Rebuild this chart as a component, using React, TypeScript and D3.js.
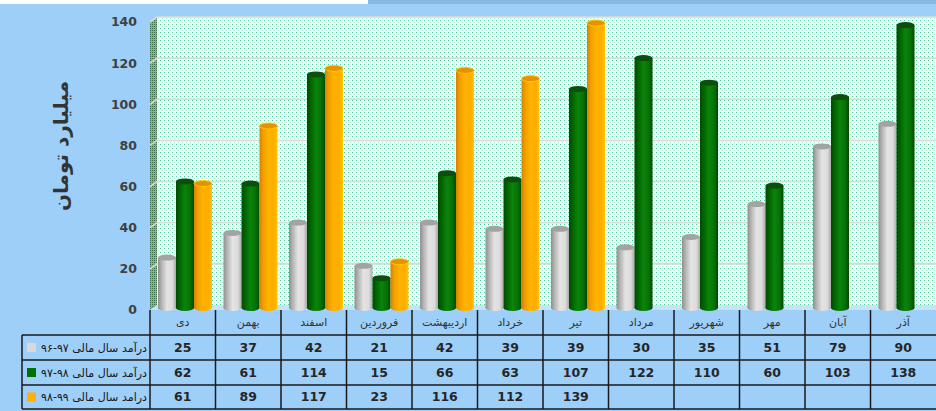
import React, { useEffect, useRef } from "react";
import * as d3 from "d3";

const categories = ["دی", "بهمن", "اسفند", "فروردین", "اردیبهشت", "خرداد", "تیر", "مرداد", "شهریور", "مهر", "آبان", "آذر"];
const seriesNames = ["درآمد سال مالی ۹۷-۹۶", "درآمد سال مالی ۹۸-۹۷", "درامد سال مالی ۹۹-۹۸"];
const income9697 = [25, 37, 42, 21, 42, 39, 39, 30, 35, 51, 79, 90];
const income9798 = [62, 61, 114, 15, 66, 63, 107, 122, 110, 60, 103, 138];
const income9899 = [61, 89, 117, 23, 116, 112, 139, null, null, null, null, null];
const yTicks = [0, 20, 40, 60, 80, 100, 120, 140];

const W = 936;
const H = 411;

function App() {
  const chartRef = useRef(null);

  useEffect(() => {
    const svg = d3.select(chartRef.current);
    svg.selectAll("*").remove();

    const series = [income9697, income9798, income9899];
    const left = 150;
    const floorY = 310;
    const dx = 7;
    const dy = 5;

    const x0 = d3.scaleBand().domain(categories).range([left, W]);
    const x1 = d3.scaleBand().domain(["0", "1", "2"]).range([8, 62]);
    const y = d3.scaleLinear().domain([0, 140]).range([floorY, 22]);

    const defs = svg.append("defs");

    // dotted back wall
    const pat = defs.append("pattern").attr("id", "dots").attr("patternUnits", "userSpaceOnUse")
      .attr("width", 4).attr("height", 4);
    pat.append("rect").attr("width", 4).attr("height", 4).attr("fill", "#f7fdfa");
    pat.append("rect").attr("x", 0).attr("y", 0).attr("width", 1).attr("height", 1).attr("fill", "#3fd49c");
    pat.append("rect").attr("x", 2).attr("y", 2).attr("width", 1).attr("height", 1).attr("fill", "#a8ead0");

    const pat2 = defs.append("pattern").attr("id", "dotsDark").attr("patternUnits", "userSpaceOnUse")
      .attr("width", 2).attr("height", 2);
    pat2.append("rect").attr("width", 2).attr("height", 2).attr("fill", "#8fae95");
    pat2.append("rect").attr("width", 1).attr("height", 1).attr("fill", "#3d7048");

    const grads = [
      { id: "gGray", stops: ["#8f8f8f", "#b4b4b4", "#e4e4e4", "#dcdcdc", "#a8a8a8"], top: "#a3a3a3", edge: "none" },
      { id: "gGreen", stops: ["#004a00", "#006400", "#0b840b", "#067006", "#004800"], top: "#0d4d0d", edge: "none" },
      { id: "gOrange", stops: ["#d48200", "#f29e00", "#ffb400", "#ffac00", "#ffc800"], top: "#e89000", edge: "#ffd000" },
    ];
    grads.forEach((g) => {
      const lg = defs.append("linearGradient").attr("id", g.id).attr("x1", "0").attr("x2", "1").attr("y1", "0").attr("y2", "0");
      [0, 0.2, 0.5, 0.8, 1].forEach((o, i) => lg.append("stop").attr("offset", o).attr("stop-color", g.stops[i]));
    });

    // background
    svg.append("rect").attr("width", W).attr("height", H).attr("fill", "#9dcff9");
    svg.append("rect").attr("x", 0).attr("y", 0).attr("width", 368).attr("height", 4).attr("fill", "#ffffff");
    svg.append("rect").attr("x", 368).attr("y", 0).attr("width", W - 368).attr("height", 4).attr("fill", "#89b9e2");

    // walls
    svg.append("rect").attr("x", left + dx).attr("y", y(140) - dy).attr("width", W - left - dx)
      .attr("height", floorY - y(140)).attr("fill", "url(#dots)");
    svg.append("polygon")
      .attr("points", [[left, floorY], [left + dx, floorY - dy], [left + dx, y(140) - dy], [left, y(140)]].map((p) => p.join(",")).join(" "))
      .attr("fill", "url(#dotsDark)");
    svg.append("polygon")
      .attr("points", [[left, floorY], [left + dx, floorY - dy], [W, floorY - dy], [W, floorY]].map((p) => p.join(",")).join(" "))
      .attr("fill", "#c6e3f7");

    // gridlines
    const grid = svg.append("g").attr("stroke", "#d9d9d9").attr("stroke-width", 1.6).attr("fill", "none");
    yTicks.filter((t) => t > 0).forEach((t) => {
      grid.append("polyline").attr("points", `${left},${y(t)} ${left + dx},${y(t) - dy} ${W},${y(t) - dy}`);
    });

    // y tick labels
    svg.append("g").selectAll("text").data(yTicks).enter().append("text")
      .attr("x", 137).attr("y", (d) => y(d)).attr("dy", "0.35em").attr("text-anchor", "end")
      .attr("font-family", "DejaVu Sans, sans-serif").attr("font-weight", "bold").attr("font-size", 12.5)
      .attr("fill", "#404040").text((d) => d);

    // y title
    svg.append("text").attr("transform", "translate(68,146) rotate(-90)").attr("text-anchor", "middle")
      .attr("font-family", "DejaVu Sans, sans-serif").attr("font-weight", "bold").attr("font-size", 20)
      .attr("fill", "#333333").text("میلیارد تومان");

    // cylinders
    const bw = x1.bandwidth();
    const ry = 3;
    const bars = svg.append("g");
    categories.forEach((c, ci) => {
      series.forEach((s, si) => {
        const v = s[ci];
        if (v == null) return;
        const bx = (x0(c) as number) + (x1(String(si)) as number);
        const top = y(v) - 1;
        const bottom = floorY - 2;
        const g = grads[si];
        const cyl = bars.append("g");
        cyl.append("ellipse").attr("cx", bx + bw / 2).attr("cy", bottom).attr("rx", bw / 2).attr("ry", ry)
          .attr("fill", `url(#${g.id})`);
        cyl.append("rect").attr("x", bx).attr("y", top).attr("width", bw).attr("height", bottom - top)
          .attr("fill", `url(#${g.id})`);
        cyl.append("ellipse").attr("cx", bx + bw / 2).attr("cy", top).attr("rx", bw / 2).attr("ry", ry)
          .attr("fill", g.top).attr("stroke", g.edge).attr("stroke-width", 0.8);
      });
    });

    // data table
    const rowTop = [310, 335, 360, 385, 409];
    const table = svg.append("g").attr("stroke", "#1a1a1a").attr("stroke-width", 1.5);
    rowTop.slice(1).forEach((ry2) => {
      table.append("line").attr("x1", 22).attr("x2", W).attr("y1", ry2).attr("y2", ry2);
    });
    table.append("line").attr("x1", 22).attr("x2", 22).attr("y1", rowTop[1]).attr("y2", rowTop[4]);
    categories.forEach((c) => {
      table.append("line").attr("x1", x0(c) as number).attr("x2", x0(c) as number).attr("y1", rowTop[0]).attr("y2", rowTop[4]);
    });

    svg.append("g").selectAll("text").data(categories).enter().append("text")
      .attr("x", (d) => (x0(d) as number) + x0.bandwidth() / 2).attr("y", (rowTop[0] + rowTop[1]) / 2)
      .attr("dy", "0.35em").attr("text-anchor", "middle")
      .attr("font-family", "DejaVu Sans, sans-serif").attr("font-size", 11).attr("fill", "#333333")
      .text((d) => d);

    const legendColors = ["#d9d9d9", "#007000", "#ffb000"];
    series.forEach((s, si) => {
      const cy = (rowTop[si + 1] + rowTop[si + 2]) / 2;
      svg.append("rect").attr("x", 27).attr("y", cy - 4.5).attr("width", 9).attr("height", 9).attr("fill", legendColors[si]);
      svg.append("text").attr("x", 147).attr("y", cy).attr("dy", "0.35em").attr("text-anchor", "end")
        .attr("font-family", "DejaVu Sans, sans-serif").attr("font-size", 11.5).attr("fill", "#1a1a1a")
        .attr("textLength", 106).attr("lengthAdjust", "spacingAndGlyphs")
        .text(seriesNames[si]);
      svg.append("g").selectAll("text").data(s.map((v, i) => ({ v, c: categories[i] })).filter((d) => d.v != null))
        .enter().append("text")
        .attr("x", (d) => (x0(d.c) as number) + x0.bandwidth() / 2).attr("y", cy).attr("dy", "0.35em")
        .attr("text-anchor", "middle").attr("font-family", "DejaVu Sans, sans-serif").attr("font-weight", "bold")
        .attr("font-size", 12.5).attr("fill", "#262626").text((d) => d.v as number);
    });
  }, []);

  return (
    <div style={{ position: "absolute", left: 0, top: 0 }}>
      <svg ref={chartRef} width={W} height={H} style={{ display: "block" }} />
    </div>
  );
}

export default App;
